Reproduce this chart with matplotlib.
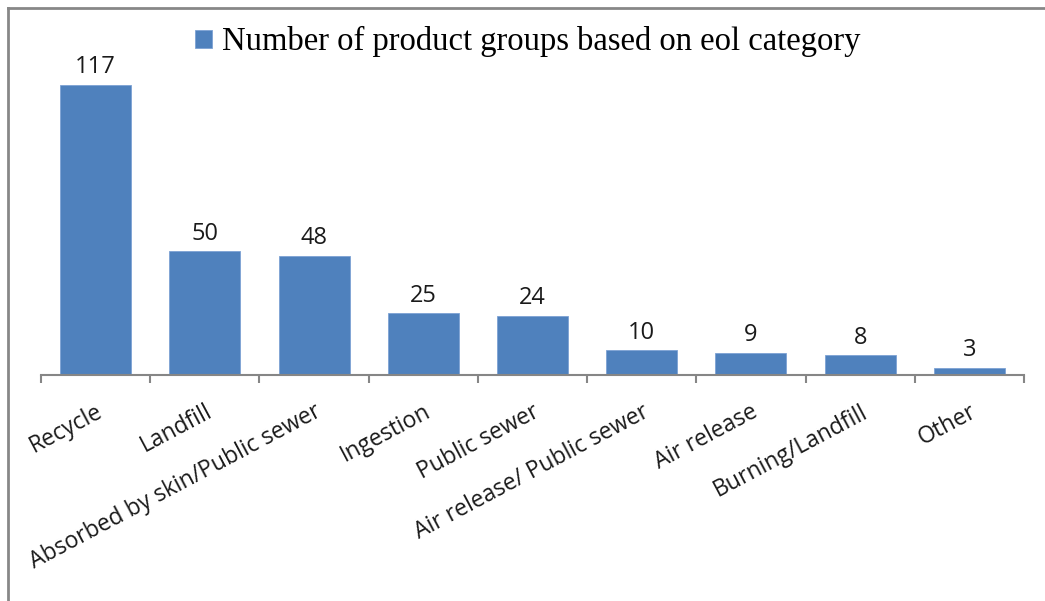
import numpy as np
import matplotlib.pyplot as plt
from matplotlib.lines import Line2D
from matplotlib.ticker import FixedLocator

categories = ['Recycle', 'Landfill', 'Absorbed by skin/Public sewer', 'Ingestion',
              'Public sewer', 'Air release/ Public sewer', 'Air release',
              'Burning/Landfill', 'Other']
counts = [117, 50, 48, 25, 24, 10, 9, 8, 3]
series_name = 'Number of product groups based on eol category'

bar_color = '#4F81BD'
axis_gray = '#868686'

fig = plt.figure(figsize=(10.45, 6.01), dpi=100)
ax = fig.add_axes([0.0392, 0.376, 0.9407, 0.5774])

x = np.arange(len(categories))
bars = ax.bar(x, counts, width=0.65, color=bar_color, edgecolor='#7DA2D4',
              linewidth=0.6, label=series_name, zorder=2)

for xi, v in zip(x, counts):
    ax.annotate(str(v), (xi, v), xytext=(0, 4), textcoords='offset points',
                ha='center', va='bottom', fontsize=17, family='Open Sans',
                color='#1a1a1a')

ax.set_xlim(-0.5, len(categories) - 0.5)
ax.set_ylim(0, 140)

for side in ['top', 'right', 'left']:
    ax.spines[side].set_visible(False)
ax.spines['bottom'].set_color(axis_gray)
ax.spines['bottom'].set_linewidth(1.5)
ax.set_yticks([])

# labels centred on bars, tick marks between categories
ax.set_xticks(x)
ax.set_xticklabels(categories, rotation=28, ha='right', rotation_mode='anchor',
                   fontsize=16.5, family='Open Sans', color='#1a1a1a')
ax.xaxis.set_minor_locator(FixedLocator(np.arange(len(categories) + 1) - 0.5))
ax.tick_params(axis='x', which='major', length=0, pad=18)
ax.tick_params(axis='x', which='minor', length=6, width=1.5, color=axis_gray)

leg = ax.legend(loc='upper center', bbox_to_anchor=(0.505, 1.005),
                bbox_transform=fig.transFigure, frameon=False,
                prop={'family': 'Liberation Serif', 'size': 23.5},
                handlelength=0.5, handleheight=0.5, handletextpad=0.3)

# chart frame
fig.add_artist(Line2D([0.008, 1.0], [0.987, 0.987], transform=fig.transFigure,
                      color='#878787', linewidth=2))
fig.add_artist(Line2D([0.008, 0.008], [0.0, 0.987], transform=fig.transFigure,
                      color='#878787', linewidth=2))

plt.savefig('out.png', dpi=100)
